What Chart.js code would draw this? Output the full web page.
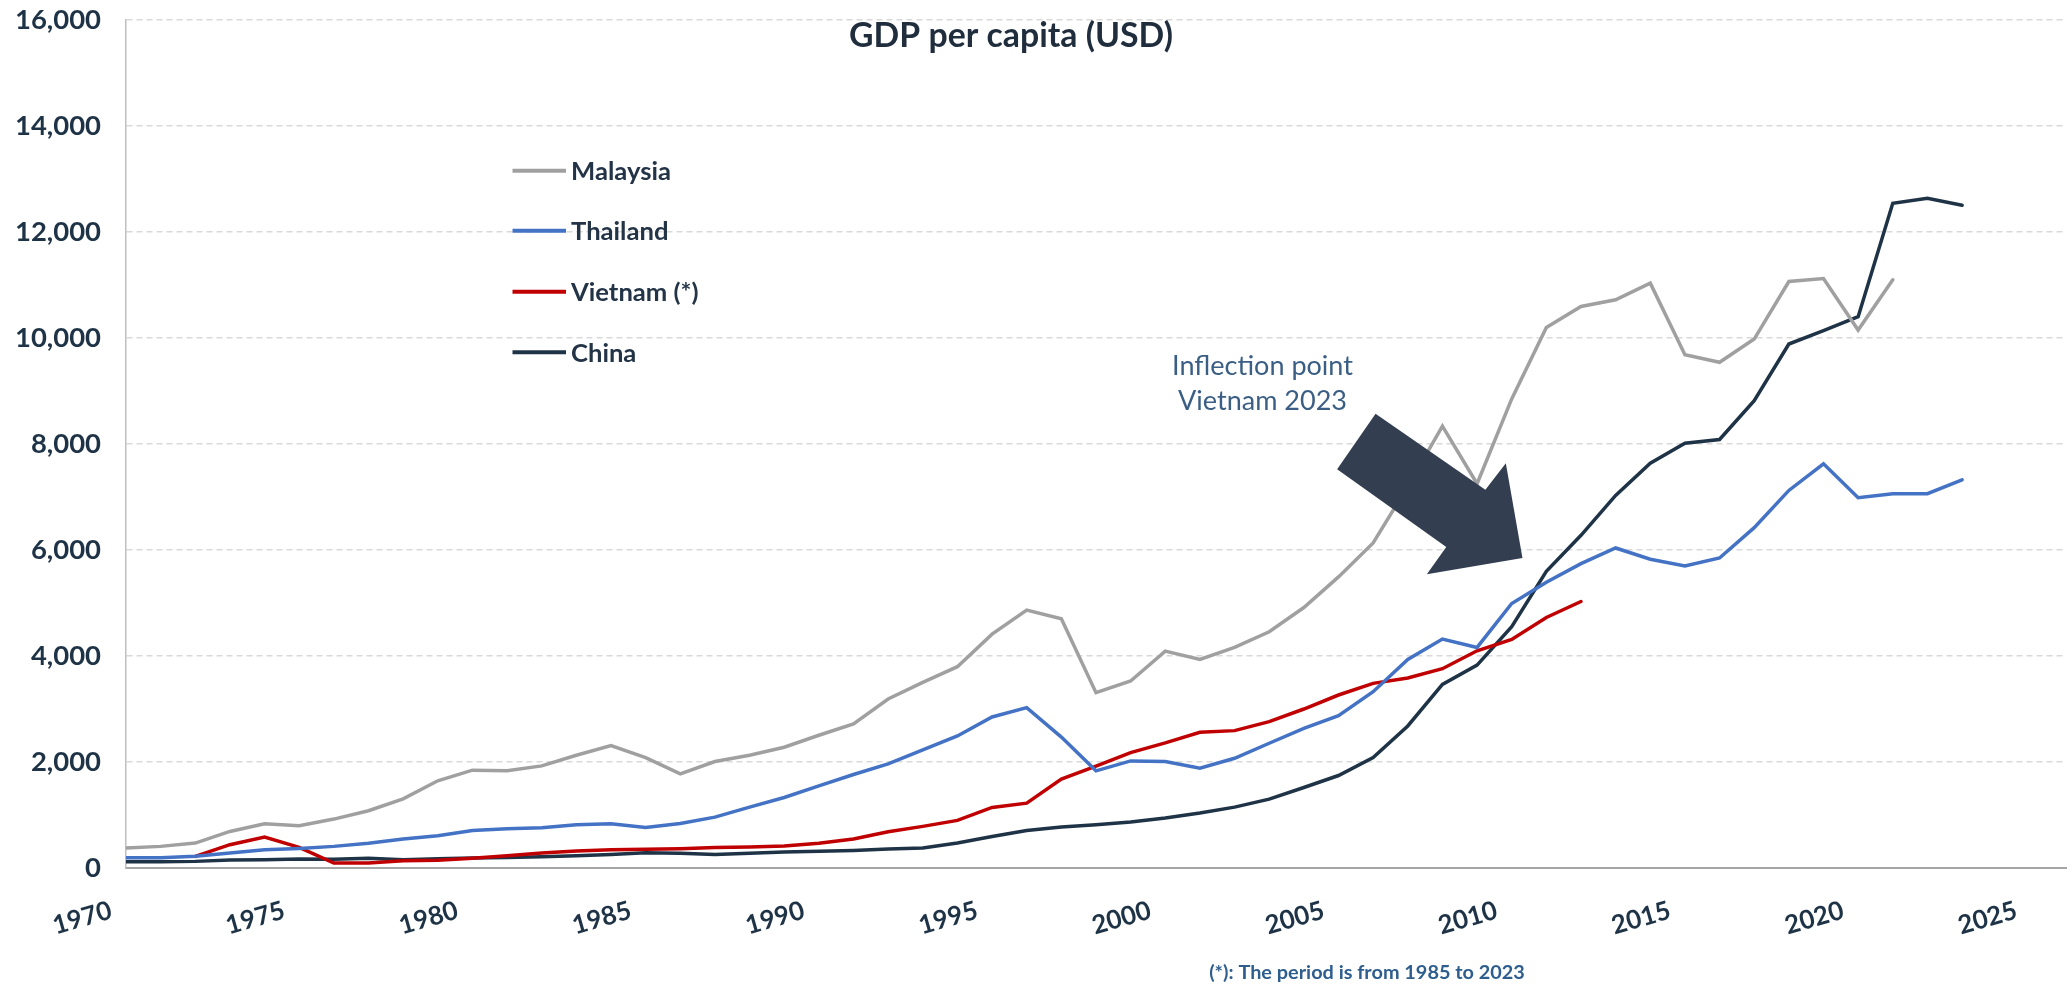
<!DOCTYPE html>
<html>
<head>
<meta charset="utf-8">
<script src="https://cdn.jsdelivr.net/npm/chart.js@4.4.1/dist/chart.umd.min.js"></script>
<style>
  html, body { margin: 0; padding: 0; background: #ffffff; }
  #wrap { width: 2072px; height: 991px; }
</style>
</head>
<body>
<div id="wrap"><canvas id="c" width="2072" height="991"></canvas></div>
<script>
// ---------------- DATA ----------------
const years = [1970,1971,1972,1973,1974,1975,1976,1977,1978,1979,
               1980,1981,1982,1983,1984,1985,1986,1987,1988,1989,
               1990,1991,1992,1993,1994,1995,1996,1997,1998,1999,
               2000,2001,2002,2003,2004,2005,2006,2007,2008,2009,
               2010,2011,2012,2013,2014,2015,2016,2017,2018,2019,
               2020,2021,2022,2023];

// Malaysia: 1970 - 2021
const malaysia = [377,408,471,690,835,797,923,1080,1306,1645,
                  1846,1833,1927,2128,2310,2084,1776,2009,2128,2279,
                  2505,2718,3189,3503,3798,4413,4865,4701,3308,3528,
                  4093,3936,4162,4457,4915,5492,6133,7200,8336,7250,
                  8851,10200,10596,10721,11035,9686,9541,9980,11066,11123,
                  10150,11098];

// Thailand: 1970 - 2023
const thailand = [195,195,220,282,345,370,408,465,546,609,
                  709,741,760,816,835,766,841,960,1149,1331,
                  1550,1764,1965,2228,2492,2850,3025,2470,1833,2021,
                  2009,1883,2071,2354,2636,2875,3327,3936,4319,4162,
                  4990,5390,5743,6038,5825,5700,5850,6421,7124,7627,
                  6986,7062,7062,7325];

// Vietnam (*): plotted on the x axis from 1972 to 2012
const vietnamStartYear = 1972;
const vietnam = [220,440,584,389,94,94,138,144,182,232,
                 282,320,345,352,364,389,395,414,465,546,
                 684,785,898,1142,1224,1676,1921,2178,2360,2561,
                 2592,2762,3000,3264,3484,3584,3760,4099,4312,4727,
                 5028];

// China: 1970 - 2023
const china = [119,119,125,150,157,170,165,182,157,176,
               188,200,213,232,257,289,276,257,276,301,
               314,330,358,377,471,596,709,772,816,866,
               942,1036,1149,1299,1519,1745,2084,2680,3465,3829,
               4551,5599,6277,7030,7639,8016,8085,8819,9886,10137,
               10401,12542,12636,12504];

const seriesNames = ['Malaysia', 'Thailand', 'Vietnam (*)', 'China'];
const xTickValues = [1970,1975,1980,1985,1990,1995,2000,2005,2010,2015,2020,2025];
const yTickValues = [0,2000,4000,6000,8000,10000,12000,14000,16000];
const titleText = 'GDP per capita (USD)';
const annotationLines = ['Inflection point', 'Vietnam 2023'];
const footnoteText = '(*): The period is from 1985 to 2023';

// ---------------- STYLE / LAYOUT ----------------
const FONT = 'Lato, "Open Sans", "DejaVu Sans", sans-serif';
const seriesColors = ['#A0A0A0', '#4472C4', '#C00000', '#1F3347'];
const tickColor = '#1F3347';

const mctx = document.createElement('canvas').getContext('2d');
function fitSize(text, weight, targetW) {
  mctx.font = weight + ' 100px ' + FONT;
  return 100 * targetW / mctx.measureText(text).width;
}
const yTickSize   = fitSize('16,000', 'bold', 86);
const xTickSize   = fitSize('1970', 'bold', 60);
const titleSize   = fitSize(titleText, 'bold', 324);
const legendSize  = fitSize('Malaysia', 'bold', 100);
const annotSize   = fitSize(annotationLines[0], 'normal', 181);
const footSize    = fitSize(footnoteText, 'bold', 316);

function toPoints(startYear, values) {
  const i0 = years.indexOf(startYear);
  return values.map((v, i) => ({ x: years[i0 + i], y: v }));
}

const datasets = [
  { label: seriesNames[0], data: toPoints(1970, malaysia) },
  { label: seriesNames[1], data: toPoints(1970, thailand) },
  { label: seriesNames[2], data: toPoints(vietnamStartYear, vietnam) },
  { label: seriesNames[3], data: toPoints(1970, china) }
].map((d, i) => Object.assign(d, {
  borderColor: seriesColors[i],
  backgroundColor: seriesColors[i],
  borderWidth: 3.5,
  pointRadius: 0,
  pointHoverRadius: 0,
  tension: 0,
  fill: false,
  borderCapStyle: 'round',
  borderJoinStyle: 'miter'
}));

// Overlay: title, legend, annotation, arrow, footnote
const overlayPlugin = {
  id: 'overlay',
  afterDatasetsDraw(chart) {
    const ctx = chart.ctx;
    const xs = chart.scales.x, ys = chart.scales.y;
    // Block arrow (defined in data space)
    const arrow = [[2006.07,8569],[2009.24,7137],[2009.83,7638],[2010.31,5849],
                   [2007.55,5542],[2008.11,6056],[2004.96,7525]];
    ctx.save();
    ctx.beginPath();
    arrow.forEach((p, i) => {
      const px = xs.getPixelForValue(p[0]), py = ys.getPixelForValue(p[1]);
      if (i === 0) ctx.moveTo(px, py); else ctx.lineTo(px, py);
    });
    ctx.closePath();
    ctx.fillStyle = '#333F50';
    ctx.fill();
    ctx.restore();
  },
  afterDraw(chart) {
    const ctx = chart.ctx;
    ctx.save();
    // Title
    ctx.fillStyle = '#1F2D3D';
    ctx.font = 'bold ' + titleSize + 'px ' + FONT;
    ctx.textAlign = 'center';
    ctx.textBaseline = 'middle';
    ctx.fillText(titleText, 1011, 36);

    // Legend
    const legY = [170.7, 230.7, 291.7, 352.3];
    ctx.font = 'bold ' + legendSize + 'px ' + FONT;
    ctx.textAlign = 'left';
    chart.data.datasets.forEach((ds, i) => {
      ctx.strokeStyle = ds.borderColor;
      ctx.lineWidth = 4;
      ctx.lineCap = 'butt';
      ctx.beginPath();
      ctx.moveTo(512.5, legY[i]);
      ctx.lineTo(566, legY[i]);
      ctx.stroke();
      ctx.fillStyle = '#243447';
      ctx.fillText(ds.label, 571, legY[i] + 1);
    });

    // Annotation
    ctx.fillStyle = '#3B5E84';
    ctx.font = 'normal ' + annotSize + 'px ' + FONT;
    ctx.textAlign = 'center';
    ctx.fillText(annotationLines[0], 1262.5, 366);
    ctx.fillText(annotationLines[1], 1262.5, 401);

    // Footnote
    ctx.fillStyle = '#2E5E8E';
    ctx.font = 'bold ' + footSize + 'px ' + FONT;
    ctx.fillText(footnoteText, 1367, 973);
    ctx.restore();
  }
};

new Chart(document.getElementById('c'), {
  type: 'line',
  data: { datasets },
  options: {
    responsive: false,
    animation: false,
    devicePixelRatio: 1,
    layout: { padding: { top: 20, right: 6, left: 0, bottom: 0 } },
    plugins: {
      legend: { display: false },
      title: { display: false },
      tooltip: { enabled: false }
    },
    scales: {
      x: {
        type: 'linear',
        min: 1970,
        max: 2026,
        afterBuildTicks: s => { s.ticks = xTickValues.map(v => ({ value: v })); },
        afterFit: s => { s.height = 123; s.paddingLeft = 0; s.paddingRight = 0; },
        grid: { display: false, drawTicks: false },
        border: { display: true, color: '#A6A6A6', width: 2 },
        ticks: {
          autoSkip: false,
          minRotation: 16,
          maxRotation: 16,
          padding: 27,
          labelOffset: -15,
          color: tickColor,
          font: { family: FONT, size: xTickSize, weight: 'bold' },
          callback: v => String(v)
        }
      },
      y: {
        min: 0,
        max: 16000,
        afterBuildTicks: s => { s.ticks = yTickValues.map(v => ({ value: v })); },
        afterFit: s => { s.width = 126; s.paddingTop = 0; s.paddingBottom = 0; },
        grid: {
          drawTicks: false,
          lineWidth: 1.5,
          color: c => (c.tick && c.tick.value === 0) ? 'rgba(0,0,0,0)' : '#D9D9D9'
        },
        border: { display: true, color: '#BFBFBF', width: 1.5, dash: [6, 4] },
        ticks: {
          padding: 25,
          color: tickColor,
          font: { family: FONT, size: yTickSize, weight: 'bold' },
          callback: v => Number(v).toLocaleString('en-US')
        }
      }
    }
  },
  plugins: [overlayPlugin]
});
</script>
</body>
</html>
